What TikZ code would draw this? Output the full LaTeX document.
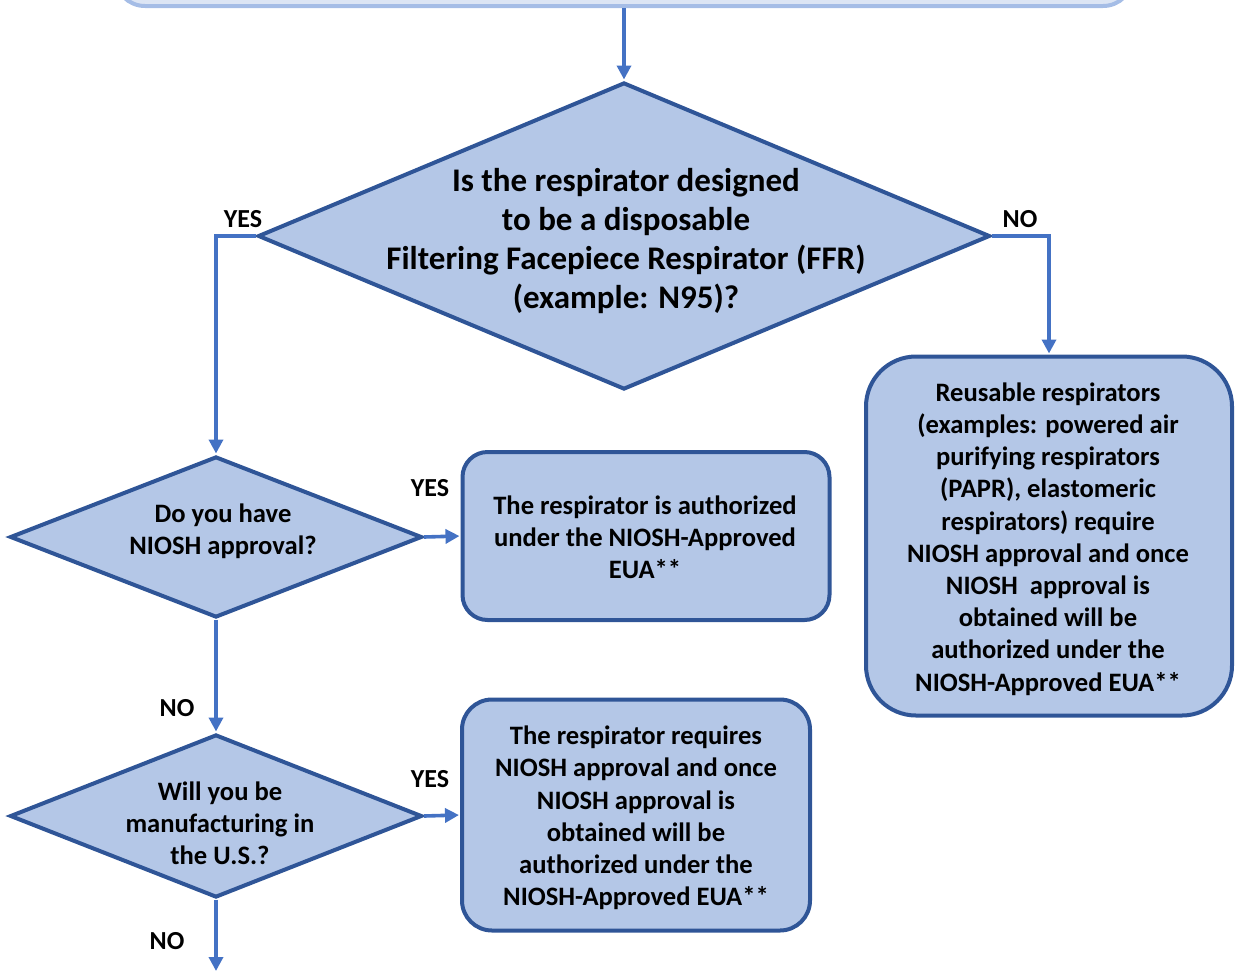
\documentclass[tikz,border=0pt]{standalone}
\usepackage{fontspec}
\setmainfont{Carlito}
\usetikzlibrary{shapes.geometric,arrows.meta}
\definecolor{fillb}{HTML}{B4C7E7}
\definecolor{borderc}{HTML}{2F5597}
\definecolor{arrowc}{HTML}{4472C4}
\definecolor{topfill}{HTML}{DCE5F4}
\definecolor{topborder}{HTML}{A5BDE6}
\begin{document}
\begin{tikzpicture}[x=1pt,y=-1pt,
  arr/.style={draw=arrowc, line width=3.6pt, -{Triangle[length=14pt,width=14pt]}, shorten >=1pt},
  dia/.style={diamond, draw=borderc, fill=fillb, line width=4pt, inner sep=0pt},
  rbox/.style={rectangle, draw=borderc, fill=fillb, line width=4pt},
  txt/.style={font=\bfseries\fontsize{26.6}{32.2}\selectfont, align=center, inner sep=0pt},
  bigtxt/.style={font=\bfseries\fontsize{33}{39}\selectfont, align=center, inner sep=0pt},
  lbl/.style={font=\bfseries\fontsize{26}{30}\selectfont, inner sep=0pt}]
\useasboundingbox (0,0) rectangle (1235,970);
\clip (0,0) rectangle (1235,970);
% top box (cut off)
\node[rectangle, draw=topborder, fill=topfill, line width=4pt, rounded corners=30pt,
      minimum width=1018pt, minimum height=132pt] (start) at (624,-60) {};
% main decision
\node[dia, minimum width=732pt, minimum height=307pt] (d0) at (624,236) {};
\node[bigtxt] (t0) at (626,241) {Is the respirator designed\\to be a disposable\\Filtering Facepiece Respirator (FFR)\\(example: N95)?};
% decision 1
\node[dia, minimum width=412pt, minimum height=161pt] (d1) at (216,537) {};
\node[txt] (t1) at (223,531) {Do you have\\NIOSH approval?};
% decision 2
\node[dia, minimum width=412pt, minimum height=163pt] (d2) at (216,816) {};
\node[txt] (t2) at (220,823) {Will you be\\manufacturing in\\the U.S.?};
% boxes
\node[rbox, rounded corners=25pt, minimum width=367pt, minimum height=168pt] (b1) at (646,536) {};
\node[txt] (tb1) at (645,537) {The respirator is authorized\\under the NIOSH-Approved\\EUA**};
\node[rbox, rounded corners=30pt, minimum width=348pt, minimum height=231pt] (b2) at (636,815) {};
\node[txt] (tb2) at (636,818) {The respirator requires\\NIOSH approval and once\\NIOSH approval is\\obtained will be\\authorized under the\\NIOSH-Approved EUA**};
\node[rbox, rounded corners=50pt, minimum width=366pt, minimum height=359pt] (b3) at (1049,536) {};
\node[txt] (tb3) at (1048,539) {Reusable respirators\\(examples: powered air\\purifying respirators\\(PAPR), elastomeric\\respirators) require\\NIOSH approval and once\\NIOSH\ \ approval is\\obtained will be\\authorized under the\\NIOSH-Approved EUA**};
% end coordinate
\coordinate (end) at (216,972);
% connectors
\draw[arr] (start.south) -- (d0.north);
\draw[arr] (d0.west) -| (d1.north);
\draw[arr] (d0.east) -| (b3.north);
\draw[arr] (d1.east) -- (b1.west);
\draw[arr] (d1.south) -- (d2.north);
\draw[arr] (d2.east) -- (b2.west);
\draw[arr] (d2.south) -- (end);
% labels
\node[lbl] (l1) at (243,219) {YES};
\node[lbl] (l2) at (1020,219) {NO};
\node[lbl] (l3) at (430,488) {YES};
\node[lbl] (l4) at (177,708) {NO};
\node[lbl] (l5) at (430,779) {YES};
\node[lbl] (l6) at (167,941) {NO};
\end{tikzpicture}
\end{document}
